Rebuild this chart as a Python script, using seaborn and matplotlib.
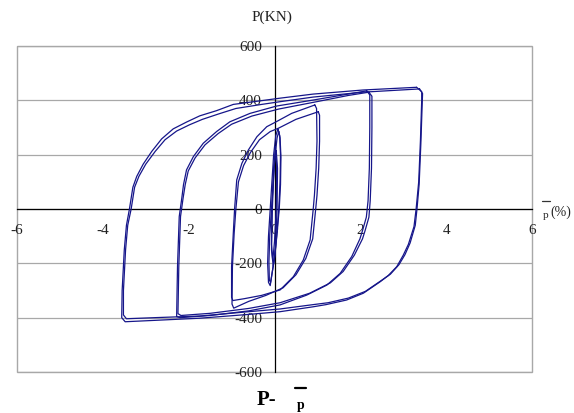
import matplotlib
matplotlib.use("Agg")
import matplotlib.pyplot as plt
from matplotlib.patches import Rectangle
from matplotlib.lines import Line2D
import seaborn as sns
import pandas as pd

# ---- hysteresis cycles: plastic rotation (%) vs load P (kN) ----
# tiny elastic cycles
a1_x = [0.04, 0.07, 0.06, 0.02, -0.03, -0.07, -0.06, -0.02, 0.04]
a1_y = [215, 150, 0, -150, -210, -150, 0, 150, 215]
a2_x = [0.02, 0.05, 0.04, 0.0, -0.04, -0.07, -0.05, -0.01, 0.02]
a2_y = [230, 160, 0, -120, -190, -130, 0, 160, 230]

# small cycles (about +/-290 kN)
b1_x = [0.08, 0.12, 0.14, 0.13, 0.10, 0.05, 0.00, -0.06, -0.10, -0.14, -0.16, -0.14, -0.10, -0.06, -0.02, 0.03, 0.08]
b1_y = [295, 270, 200, 100, 0, -100, -180, -240, -282, -270, -200, -100, 0, 100, 200, 270, 295]
b2_x = [0.10, 0.13, 0.15, 0.14, 0.11, 0.06, 0.01, -0.05, -0.09, -0.12, -0.13, -0.11, -0.07, -0.03, 0.01, 0.06, 0.10]
b2_y = [285, 262, 190, 90, 0, -90, -170, -230, -270, -262, -195, -95, 0, 95, 190, 262, 285]

# cycles at about +/-1 %
c1_x = [0.94, 0.98, 0.99, 0.97, 0.93, 0.90, 0.83, 0.67, 0.44, 0.13, -0.30, -0.70, -0.97, -1.00, -1.00, -0.96, -0.93, -0.88, -0.76, -0.61, -0.41, -0.18, 0.05, 0.40, 0.94]
c1_y = [383, 370, 250, 150, 50, -4, -114, -188, -249, -298, -318, -330, -337, -325, -212, -89, 0, 107, 168, 217, 266, 303, 322, 352, 383]
c2_x = [1.02, 1.05, 1.05, 1.03, 0.99, 0.96, 0.89, 0.73, 0.50, 0.20, -0.20, -0.60, -0.95, -0.99, -0.98, -0.94, -0.90, -0.84, -0.72, -0.56, -0.35, -0.10, 0.10, 0.50, 1.02]
c2_y = [358, 345, 250, 150, 50, 0, -110, -182, -242, -290, -318, -340, -365, -350, -212, -89, 0, 100, 160, 208, 255, 285, 298, 330, 358]

# cycles at about +/-2.2 %
d1_x = [2.15, 2.22, 2.22, 2.21, 2.18, 2.14, 2.05, 1.99, 1.80, 1.53, 1.22, 0.75, 0.13, -0.60, -1.50, -2.20, -2.28, -2.27, -2.26, -2.22, -2.16, -2.12, -2.05, -1.89, -1.66, -1.35, -1.04, -0.57, 0.05, 0.90, 1.68, 2.15]
d1_y = [435, 420, 300, 150, 30, -30, -80, -110, -175, -237, -280, -317, -353, -375, -392, -400, -396, -300, -212, -28, 40, 90, 144, 193, 242, 285, 321, 352, 379, 401, 422, 435]
d2_x = [2.20, 2.27, 2.27, 2.26, 2.23, 2.20, 2.11, 2.05, 1.86, 1.60, 1.30, 0.82, 0.13, -0.60, -1.50, -2.18, -2.25, -2.24, -2.23, -2.19, -2.13, -2.08, -2.01, -1.85, -1.62, -1.31, -1.00, -0.53, 0.10, 0.95, 1.72, 2.20]
d2_y = [430, 415, 300, 150, 30, -30, -80, -110, -170, -230, -272, -310, -345, -366, -384, -392, -385, -300, -212, -28, 40, 90, 140, 188, 236, 278, 312, 342, 368, 394, 418, 430]

# cycles at about +/-3.4 %
e1_x = [3.31, 3.43, 3.43, 3.40, 3.36, 3.30, 3.25, 3.12, 3.00, 2.85, 2.65, 2.46, 2.07, 1.68, 1.20, 0.90, 0.13, -0.60, -1.74, -2.80, -3.48, -3.56, -3.55, -3.50, -3.45, -3.38, -3.30, -3.21, -3.06, -2.86, -2.63, -2.36, -2.05, -1.74, -1.35, -0.96, -0.34, 0.13, 0.90, 2.06, 3.31]
e1_y = [448, 432, 400, 250, 100, 0, -65, -130, -170, -212, -245, -268, -310, -335, -352, -360, -378, -388, -402, -410, -415, -400, -300, -150, -60, 0, 80, 120, 165, 212, 258, 295, 320, 343, 362, 385, 398, 408, 423, 438, 448]
e2_x = [3.38, 3.45, 3.44, 3.41, 3.37, 3.32, 3.28, 3.16, 3.04, 2.90, 2.70, 2.50, 2.12, 1.72, 1.25, 0.90, 0.13, -0.60, -1.74, -2.80, -3.45, -3.52, -3.52, -3.47, -3.42, -3.34, -3.26, -3.16, -3.00, -2.78, -2.55, -2.28, -1.98, -1.68, -1.30, -0.90, -0.30, 0.13, 0.90, 2.06, 3.38]
e2_y = [442, 425, 380, 240, 90, 0, -60, -125, -168, -205, -240, -262, -303, -328, -345, -352, -368, -378, -394, -400, -404, -390, -300, -150, -60, 0, 80, 120, 165, 212, 255, 287, 310, 330, 350, 370, 385, 395, 412, 430, 442]

cycles = {
    "a1": (a1_x, a1_y), "a2": (a2_x, a2_y),
    "b1": (b1_x, b1_y), "b2": (b2_x, b2_y),
    "c1": (c1_x, c1_y), "c2": (c2_x, c2_y),
    "d1": (d1_x, d1_y), "d2": (d2_x, d2_y),
    "e1": (e1_x, e1_y), "e2": (e2_x, e2_y),
}
frames = []
for name, (xs, ys) in cycles.items():
    frames.append(pd.DataFrame({"rot": xs, "load": ys, "cycle": name}))
df = pd.concat(frames, ignore_index=True)

x_ticks = [-6, -4, -2, 0, 2, 4, 6]
y_ticks = [-600, -400, -200, 0, 200, 400, 600]

sns.set_theme(style="white")
plt.rcParams["font.family"] = ["Liberation Serif", "DejaVu Serif"]

W, H = 574, 413
fig = plt.figure(figsize=(W / 100, H / 100), dpi=100)
ax = fig.add_axes([17 / W, 1 - 372 / H, 515 / W, 326 / H])

sns.lineplot(data=df, x="rot", y="load", units="cycle", estimator=None,
             sort=False, color="#16168a", linewidth=0.9, ax=ax, legend=False)

ax.set_xlim(-6, 6)
ax.set_ylim(-600, 600)
ax.set_xticks(x_ticks)
ax.set_yticks(y_ticks)
ax.set_xticklabels([str(v) for v in x_ticks])
ax.set_yticklabels([str(v) for v in y_ticks])
ax.set_xlabel("")
ax.set_ylabel("")

# horizontal grid
ax.grid(axis="y", color="#a8a8a8", linewidth=0.9)
ax.grid(axis="x", visible=False)
ax.set_axisbelow(True)

# axes through the origin
for side in ("top", "right"):
    ax.spines[side].set_visible(False)
ax.spines["left"].set_position(("data", 0))
ax.spines["bottom"].set_position(("data", 0))
for side in ("left", "bottom"):
    ax.spines[side].set_color("black")
    ax.spines[side].set_linewidth(0.9)
    ax.spines[side].set_zorder(1.5)

ax.tick_params(axis="both", direction="in", length=4, width=0.9, color="black",
               labelsize=11, labelcolor="#222222")
ax.tick_params(axis="x", pad=11)
ax.tick_params(axis="y", pad=9)

# plot-area frame
ax.add_patch(Rectangle((0, 0), 1, 1, transform=ax.transAxes, fill=False,
                       edgecolor="#a8a8a8", linewidth=1.0, clip_on=False, zorder=0.5))


def fx(px):
    return px / W


def fy(py):
    return 1 - py / H


# axis titles
fig.text(fx(272), fy(17), "P(KN)", ha="center", va="center", fontsize=11, color="#222222")

# rotation label: barred symbol with subscript p, then (%)
fig.add_artist(Line2D([fx(542), fx(550)], [fy(201), fy(201)], color="#333333", linewidth=0.9))
fig.text(fx(546), fy(216), "p", ha="center", va="center", fontsize=8, color="#222222")
fig.text(fx(550), fy(212), "(%)", ha="left", va="center", fontsize=10, color="#222222")

# caption below the chart
fig.text(fx(257), fy(400), "P-", ha="left", va="center", fontsize=15, fontweight="bold", color="black")
fig.add_artist(Line2D([fx(295), fx(306)], [fy(388), fy(388)], color="black", linewidth=1.6))
fig.text(fx(301), fy(406), "p", ha="center", va="center", fontsize=10, fontweight="bold", color="black")

fig.savefig("out.png", dpi=100)
